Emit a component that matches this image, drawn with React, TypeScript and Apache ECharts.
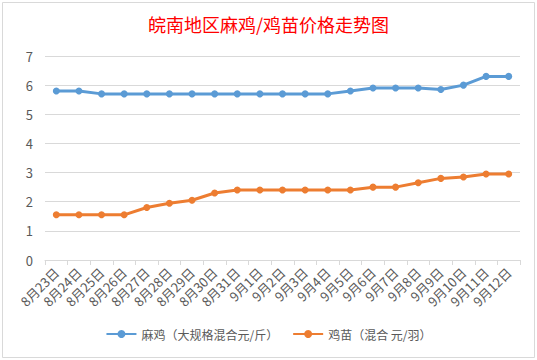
import React, { useEffect, useRef } from "react";
import * as echarts from "echarts";

const categories = [
  "8月23日", "8月24日", "8月25日", "8月26日", "8月27日", "8月28日", "8月29日", "8月30日", "8月31日",
  "9月1日", "9月2日", "9月3日", "9月4日", "9月5日", "9月6日", "9月7日", "9月8日", "9月9日", "9月10日", "9月11日", "9月12日",
];
const majiValues = [5.8, 5.8, 5.7, 5.7, 5.7, 5.7, 5.7, 5.7, 5.7, 5.7, 5.7, 5.7, 5.7, 5.8, 5.9, 5.9, 5.9, 5.85, 6.0, 6.3, 6.3];
const jimiaoValues = [1.55, 1.55, 1.55, 1.55, 1.8, 1.95, 2.05, 2.3, 2.4, 2.4, 2.4, 2.4, 2.4, 2.4, 2.5, 2.5, 2.65, 2.8, 2.85, 2.95, 2.95];
const seriesNames = ["麻鸡（大规格混合元/斤）", "鸡苗（混合 元/羽）"];
const titleText = "皖南地区麻鸡/鸡苗价格走势图";

export default function App() {
  const ref = useRef<HTMLDivElement>(null);
  useEffect(() => {
    if (!ref.current) return;
    const chart = echarts.init(ref.current, undefined, { renderer: "svg" });
    const font = "'Noto Sans CJK SC', 'Microsoft YaHei', sans-serif";
    chart.setOption({
      animation: false,
      backgroundColor: "#ffffff",
      textStyle: { fontFamily: font },
      title: {
        text: titleText,
        left: "center",
        top: 10,
        textStyle: { color: "#FF0000", fontSize: 18, fontWeight: "normal", fontFamily: font },
      },
      grid: { left: 45, right: 17, top: 56, bottom: 100, containLabel: false },
      legend: {
        bottom: 15,
        left: "center",
        itemWidth: 30,
        itemHeight: 10,
        itemGap: 14,
        textStyle: { color: "#595959", fontSize: 12, fontFamily: font },
        data: seriesNames,
      },
      xAxis: {
        type: "category",
        data: categories,
        boundaryGap: true,
        axisLine: { show: true, lineStyle: { color: "#D9D9D9", width: 1 } },
        axisTick: { show: true, length: 5, lineStyle: { color: "#D9D9D9" } },
        axisLabel: { rotate: 45, interval: 0, color: "#595959", fontSize: 13, margin: 10, fontFamily: font },
      },
      yAxis: {
        type: "value",
        min: 0,
        max: 7,
        interval: 1,
        axisLine: { show: false },
        axisTick: { show: false },
        axisLabel: { color: "#595959", fontSize: 13, margin: 12, fontFamily: font },
        splitLine: { lineStyle: { color: "#D9D9D9", width: 1 } },
      },
      series: [
        {
          name: seriesNames[0],
          type: "line",
          data: majiValues,
          symbol: "circle",
          symbolSize: 7,
          lineStyle: { color: "#5B9BD5", width: 3 },
          itemStyle: { color: "#5B9BD5" },
        },
        {
          name: seriesNames[1],
          type: "line",
          data: jimiaoValues,
          symbol: "circle",
          symbolSize: 7,
          lineStyle: { color: "#ED7D31", width: 3 },
          itemStyle: { color: "#ED7D31" },
        },
      ],
      graphic: [
        {
          type: "rect",
          shape: { x: 2.5, y: 2.5, width: 532, height: 355 },
          style: { fill: "none", stroke: "#D9D9D9", lineWidth: 1 },
          silent: true,
        },
      ],
    });
    return () => chart.dispose();
  }, []);
  return <div ref={ref} style={{ width: 537, height: 360, position: "absolute", left: 0, top: 0 }} />;
}
